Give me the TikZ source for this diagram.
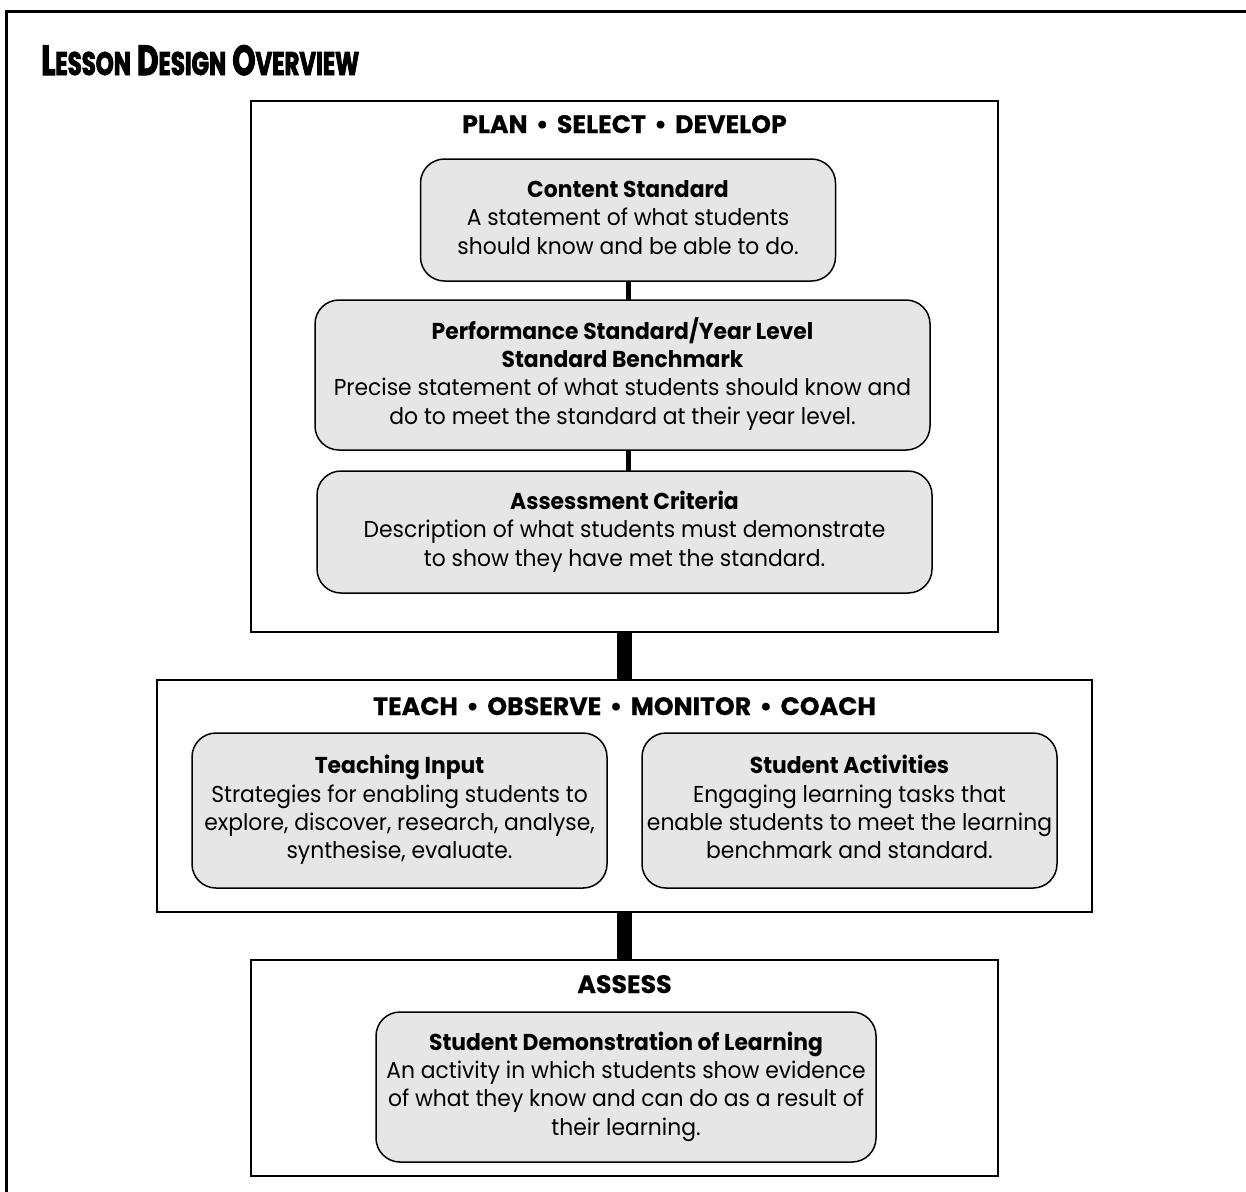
\documentclass[tikz,border=0pt]{standalone}
\usepackage{fontspec}
\setmainfont{Poppins}[FakeStretch=0.95]
\newfontfamily\titlefont{Poppins}[FakeStretch=0.70,FakeBold=2.5]
\newfontfamily\hdrfont{Poppins}[FakeStretch=1.0,FakeBold=0.6]
\usetikzlibrary{calc}
\definecolor{boxfill}{HTML}{E6E6E6}
\newcommand\scx[1]{{\fontsize{16.3pt}{17pt}\selectfont #1}}
\begin{document}
\begin{tikzpicture}[x=0.5pt,y=-0.5pt,
  frame/.style={draw, line width=1.25pt, inner sep=0pt, outer sep=0pt},
  rbox/.style={draw, fill=boxfill, rounded corners=12pt, line width=0.75pt,
    inner sep=0pt, outer sep=0pt, align=center,
    font=\fontsize{11.5pt}{14.2pt}\selectfont},
  hdr/.style={anchor=base, inner sep=0pt, font=\hdrfont\fontsize{12.6pt}{14pt}\selectfont\bfseries},
  thinc/.style={line width=2.5pt},
  thickc/.style={line width=7.5pt}]
\useasboundingbox (0,0) rectangle (1246,1191);
\clip (0,0) rectangle (1246,1191);
% outer frame (open to the right and bottom)
\draw[line width=1.75pt] (6.5,1210) -- (6.5,11.5) -- (1260,11.5);
\node[anchor=base west, inner sep=0pt] (title) at (41,75)
  {\titlefont\bfseries\fontsize{21pt}{21pt}\selectfont L\scx{ESSON} D\scx{ESIGN} O\scx{VERVIEW}};
% frames
\node[frame, minimum width=373.5pt, minimum height=265.5pt] (box1) at (624.5,366.5) {};
\node[frame, minimum width=467.5pt, minimum height=116pt] (box2) at (624.5,796) {};
\node[frame, minimum width=373.5pt, minimum height=108pt] (box3) at (624.5,1068) {};
% headers
\node[hdr] (h1) at (624.5,133) {PLAN\,\,•\,\,SELECT\,\,•\,\,DEVELOP};
\node[hdr] (h2) at (624.5,715) {TEACH\,\,•\,\,OBSERVE\,\,•\,\,MONITOR\,\,•\,\,COACH};
\node[hdr] (h3) at (624.5,993) {ASSESS};
% rounded boxes
\node[rbox, minimum width=207.5pt, minimum height=61pt] (content) at (628,220)
  {\strut\textbf{Content Standard}\\A statement of what students\\should know and be able to do.\strut};
\node[rbox, minimum width=307.5pt, minimum height=75pt] (perf) at (622.5,375)
  {\strut\textbf{Performance Standard/Year Level}\\\textbf{Standard Benchmark}\\Precise statement of what students should know and\\do to meet the standard at their year level.\strut};
\node[rbox, minimum width=307.5pt, minimum height=61pt] (crit) at (624.5,532)
  {\strut\textbf{Assessment Criteria}\\Description of what students must demonstrate\\to show they have met the standard.\strut};
\node[rbox, minimum width=207.5pt, minimum height=77.5pt] (teach) at (399.5,810.5)
  {\strut\textbf{Teaching Input}\\Strategies for enabling students to\\explore, discover, research, analyse,\\synthesise, evaluate.\strut};
\node[rbox, minimum width=207.5pt, minimum height=77.5pt] (act) at (849.5,810.5)
  {\strut\textbf{Student Activities}\\Engaging learning tasks that\\enable students to meet the learning\\benchmark and standard.\strut};
\node[rbox, minimum width=250pt, minimum height=75pt] (demo) at (626,1087)
  {\strut\textbf{Student Demonstration of Learning}\\An activity in which students show evidence\\of what they know and can do as a result of\\their learning.\strut};
% connectors
\draw[thinc] (content.south) -- (content.south |- perf.north);
\draw[thinc] (perf.south -| content.south) -- (content.south |- crit.north);
\draw[thickc] (box1.south) -- (box2.north);
\draw[thickc] (box2.south) -- (box3.north);
\end{tikzpicture}
\end{document}
